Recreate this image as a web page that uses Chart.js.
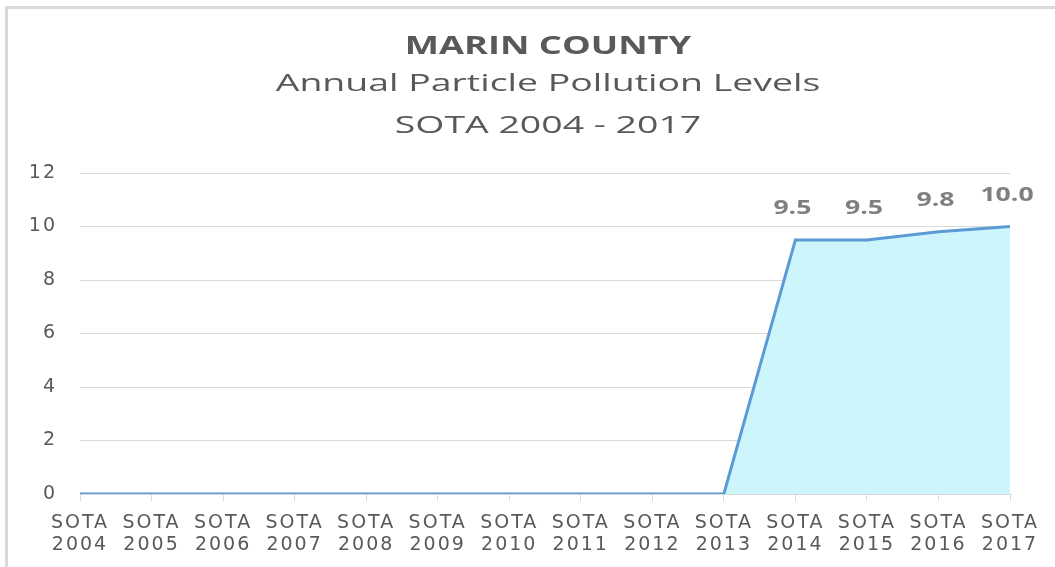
<!DOCTYPE html>
<html>
<head>
<meta charset="utf-8">
<script src="https://cdn.jsdelivr.net/npm/chart.js@4/dist/chart.umd.min.js"></script>
<style>
  html, body { margin: 0; padding: 0; background: #fff; }
  #wrap { position: relative; width: 1055px; height: 567px; overflow: hidden; }
  #frame { position: absolute; left: 5px; top: 6px; width: 1100px; height: 600px;
           border-top: 3px solid #d9d9d9; border-left: 3px solid #d9d9d9; box-sizing: border-box; }
  canvas { position: absolute; left: 0; top: 0; }
</style>
</head>
<body>
<div id="wrap">
  <div id="frame"></div>
  <canvas id="c" width="1055" height="567"></canvas>
</div>
<script>
const categories = ['2004','2005','2006','2007','2008','2009','2010','2011','2012','2013','2014','2015','2016','2017'];
const values = [0,0,0,0,0,0,0,0,0,0,9.5,9.5,9.8,10.0];
const yTicks = [0,2,4,6,8,10,12];
const titleText = 'MARIN COUNTY';
const subtitleLines = ['Annual Particle Pollution Levels', 'SOTA 2004 - 2017'];

const FONT = "'Open Sans', 'Noto Sans', sans-serif";
const TICKFONT = "'DejaVu Sans', sans-serif";
const TEXT = '#595959';

function stretchedText(ctx, text, x, y, sx) {
  ctx.save();
  ctx.translate(x, y);
  ctx.scale(sx, 1);
  ctx.fillText(text, 0, 0);
  ctx.restore();
}

const spacingPlugin = {
  id: 'tickSpacing',
  beforeDraw(chart) { chart.ctx.letterSpacing = '2px'; },
  afterDraw(chart) { chart.ctx.letterSpacing = '0px'; }
};

const labelPlugin = {
  id: 'valueLabels',
  afterDatasetsDraw(chart) {
    const ctx = chart.ctx;
    const meta = chart.getDatasetMeta(0);
    ctx.save();
    ctx.letterSpacing = '0px';
    ctx.font = "bold 20px " + FONT;
    ctx.fillStyle = '#7f7f7f';
    ctx.textAlign = 'center';
    ctx.textBaseline = 'alphabetic';
    meta.data.forEach((pt, i) => {
      const v = values[i];
      if (v > 0) stretchedText(ctx, v.toFixed(1), pt.x - 3, pt.y - 26, 1.33);
    });
    ctx.restore();
  }
};

const titlePlugin = {
  id: 'titles',
  afterDraw(chart) {
    const ctx = chart.ctx;
    ctx.save();
    ctx.letterSpacing = '0px';
    ctx.fillStyle = TEXT;
    ctx.textAlign = 'center';
    ctx.textBaseline = 'alphabetic';
    const cx = 548;
    ctx.font = "bold 25px " + FONT;
    stretchedText(ctx, titleText, cx, 54, 1.45);
    ctx.font = "24px " + FONT;
    stretchedText(ctx, subtitleLines[0], cx, 91, 1.56);
    stretchedText(ctx, subtitleLines[1], cx, 133, 1.56);
    ctx.restore();
  }
};

new Chart(document.getElementById('c'), {
  type: 'line',
  data: {
    labels: categories.map(y => ['SOTA', y]),
    datasets: [{
      data: values,
      borderColor: '#5b9bd5',
      borderWidth: 3,
      backgroundColor: '#ccf5fc',
      fill: 'origin',
      pointRadius: 0,
      tension: 0
    }]
  },
  options: {
    responsive: false,
    animation: false,
    layout: { padding: { left: 0, right: 45, top: 173, bottom: 0 } },
    plugins: { legend: { display: false }, tooltip: { enabled: false }, title: { display: false } },
    scales: {
      x: {
        type: 'category',
        offset: false,
        grid: { display: true, drawOnChartArea: false, drawTicks: true, tickLength: 7, color: '#d9d9d9' },
        border: { display: false },
        ticks: { color: TEXT, font: { family: TICKFONT, size: 19, lineHeight: 1.15 }, padding: 11, maxRotation: 0, autoSkip: false },
        afterFit(s) { s.height = 73; }
      },
      y: {
        min: 0, max: 12,
        afterBuildTicks(s) { s.ticks = yTicks.map(v => ({ value: v })); },
        grid: { color: '#d9d9d9', lineWidth: 1, drawTicks: false },
        border: { display: false },
        ticks: { color: TEXT, font: { family: TICKFONT, size: 19 }, padding: 23 },
        afterFit(s) { s.width = 80; }
      }
    }
  },
  plugins: [spacingPlugin, labelPlugin, titlePlugin]
});
</script>
</body>
</html>
